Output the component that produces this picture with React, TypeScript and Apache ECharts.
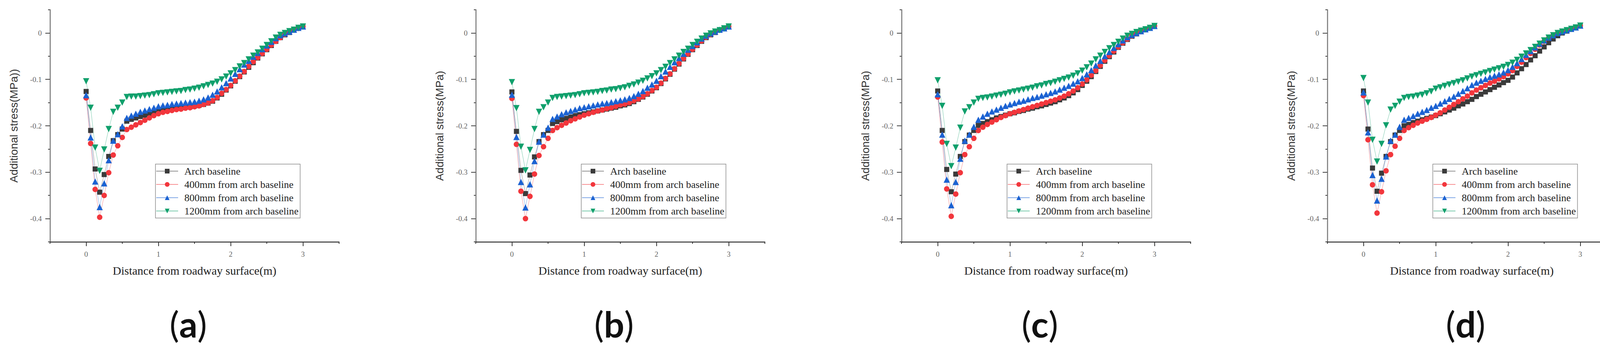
import React, { useEffect, useRef } from 'react'
import * as echarts from 'echarts'

// distance from roadway surface (m)
const distance = [
  0, 0.0625, 0.125, 0.1875, 0.25, 0.3125, 0.375, 0.4375, 0.5, 0.5625, 0.625, 0.6875, 0.75, 0.8125, 0.875, 0.9375,
  1, 1.0625, 1.125, 1.1875, 1.25, 1.3125, 1.375, 1.4375, 1.5, 1.5625, 1.625, 1.6875, 1.75, 1.8125, 1.875, 1.9375,
  2, 2.0625, 2.125, 2.1875, 2.25, 2.3125, 2.375, 2.4375, 2.5, 2.5625, 2.625, 2.6875, 2.75, 2.8125, 2.875, 2.9375, 3,
]

const seriesNames = ['Arch baseline', '400mm from arch baseline', '800mm from arch baseline', '1200mm from arch baseline']
const panelTags = ['a', 'b', 'c', 'd']
const yNames = ['Additional stress(MPa))', 'Additional stress(MPa)', 'Additional stress(MPa)', 'Additional stress(MPa)']
const xName = 'Distance from roadway surface(m)'
const yTicks = [-0.4, -0.3, -0.2, -0.1, 0]
const yMinorTicks = [-0.45, -0.35, -0.25, -0.15, -0.05, 0.05]
const xTicks = [0, 1, 2, 3]
const xMinorTicks = [-0.5, 0.5, 1.5, 2.5, 3.5]

// (a)
const archA = [-0.126, -0.210, -0.293, -0.343, -0.305, -0.266, -0.232, -0.219, -0.207, -0.190, -0.186, -0.183, -0.180, -0.177, -0.174, -0.171, -0.168, -0.166, -0.165, -0.163, -0.162, -0.161, -0.160, -0.159, -0.157, -0.156, -0.154, -0.151, -0.147, -0.140, -0.132, -0.123, -0.114, -0.104, -0.094, -0.084, -0.074, -0.064, -0.054, -0.045, -0.036, -0.027, -0.018, -0.010, -0.004, 0.001, 0.006, 0.010, 0.015]
const mm400A = [-0.140, -0.238, -0.337, -0.397, -0.350, -0.301, -0.263, -0.243, -0.225, -0.208, -0.203, -0.198, -0.193, -0.188, -0.183, -0.178, -0.174, -0.171, -0.169, -0.167, -0.165, -0.164, -0.162, -0.161, -0.159, -0.157, -0.154, -0.151, -0.146, -0.139, -0.130, -0.122, -0.113, -0.103, -0.093, -0.083, -0.072, -0.062, -0.053, -0.044, -0.035, -0.026, -0.018, -0.010, -0.003, 0.002, 0.006, 0.010, 0.014]
const mm800A = [-0.134, -0.225, -0.320, -0.375, -0.324, -0.274, -0.232, -0.218, -0.201, -0.183, -0.178, -0.174, -0.170, -0.167, -0.164, -0.161, -0.158, -0.156, -0.155, -0.153, -0.152, -0.151, -0.150, -0.149, -0.148, -0.146, -0.143, -0.139, -0.133, -0.126, -0.117, -0.108, -0.098, -0.088, -0.078, -0.068, -0.060, -0.051, -0.043, -0.035, -0.027, -0.019, -0.011, -0.005, -0.001, 0.003, 0.007, 0.011, 0.014]
const mm1200A = [-0.104, -0.161, -0.247, -0.297, -0.251, -0.207, -0.170, -0.161, -0.150, -0.138, -0.137, -0.137, -0.136, -0.135, -0.134, -0.132, -0.130, -0.129, -0.128, -0.127, -0.126, -0.125, -0.123, -0.122, -0.120, -0.118, -0.115, -0.112, -0.109, -0.105, -0.100, -0.094, -0.087, -0.080, -0.072, -0.065, -0.057, -0.049, -0.042, -0.034, -0.026, -0.018, -0.010, -0.004, 0.000, 0.004, 0.007, 0.011, 0.014]

// (b)
const archB = [-0.127, -0.212, -0.296, -0.346, -0.306, -0.267, -0.234, -0.219, -0.210, -0.195, -0.191, -0.187, -0.184, -0.181, -0.178, -0.176, -0.174, -0.172, -0.170, -0.168, -0.166, -0.164, -0.162, -0.160, -0.157, -0.155, -0.152, -0.148, -0.143, -0.138, -0.132, -0.125, -0.118, -0.109, -0.099, -0.089, -0.078, -0.067, -0.056, -0.046, -0.036, -0.027, -0.018, -0.010, -0.004, 0.001, 0.006, 0.010, 0.015]
const mm400B = [-0.141, -0.240, -0.341, -0.400, -0.352, -0.304, -0.264, -0.245, -0.227, -0.210, -0.204, -0.199, -0.194, -0.189, -0.185, -0.181, -0.177, -0.174, -0.171, -0.168, -0.166, -0.163, -0.161, -0.158, -0.155, -0.153, -0.150, -0.146, -0.142, -0.137, -0.131, -0.124, -0.117, -0.108, -0.098, -0.088, -0.077, -0.066, -0.055, -0.045, -0.035, -0.026, -0.017, -0.009, -0.003, 0.002, 0.006, 0.010, 0.014]
const mm800B = [-0.133, -0.224, -0.321, -0.376, -0.326, -0.276, -0.234, -0.219, -0.204, -0.185, -0.180, -0.175, -0.171, -0.168, -0.165, -0.162, -0.160, -0.158, -0.156, -0.154, -0.152, -0.151, -0.149, -0.147, -0.145, -0.143, -0.140, -0.136, -0.131, -0.125, -0.118, -0.111, -0.103, -0.093, -0.083, -0.073, -0.063, -0.054, -0.045, -0.036, -0.028, -0.020, -0.012, -0.006, -0.001, 0.003, 0.007, 0.010, 0.014]
const mm1200B = [-0.106, -0.162, -0.245, -0.296, -0.252, -0.207, -0.170, -0.160, -0.150, -0.140, -0.138, -0.137, -0.136, -0.135, -0.134, -0.132, -0.130, -0.129, -0.128, -0.127, -0.125, -0.124, -0.122, -0.121, -0.119, -0.117, -0.114, -0.111, -0.107, -0.103, -0.098, -0.093, -0.087, -0.080, -0.073, -0.065, -0.057, -0.049, -0.041, -0.034, -0.026, -0.019, -0.012, -0.006, -0.001, 0.003, 0.006, 0.010, 0.014]

// (c)
const archC = [-0.125, -0.210, -0.294, -0.342, -0.304, -0.266, -0.234, -0.220, -0.210, -0.199, -0.195, -0.191, -0.187, -0.183, -0.180, -0.177, -0.174, -0.172, -0.169, -0.167, -0.164, -0.162, -0.159, -0.157, -0.154, -0.151, -0.148, -0.144, -0.140, -0.135, -0.129, -0.122, -0.113, -0.104, -0.094, -0.083, -0.072, -0.061, -0.051, -0.041, -0.031, -0.022, -0.014, -0.007, -0.002, 0.003, 0.007, 0.011, 0.015]
const mm400C = [-0.138, -0.235, -0.336, -0.395, -0.347, -0.301, -0.262, -0.245, -0.227, -0.210, -0.203, -0.197, -0.192, -0.187, -0.182, -0.178, -0.174, -0.171, -0.168, -0.165, -0.162, -0.159, -0.156, -0.153, -0.150, -0.147, -0.144, -0.140, -0.136, -0.131, -0.125, -0.118, -0.110, -0.101, -0.091, -0.081, -0.070, -0.059, -0.049, -0.039, -0.030, -0.021, -0.013, -0.006, -0.001, 0.003, 0.007, 0.011, 0.015]
const mm800C = [-0.132, -0.219, -0.316, -0.371, -0.321, -0.271, -0.232, -0.219, -0.202, -0.187, -0.180, -0.174, -0.169, -0.165, -0.161, -0.157, -0.154, -0.151, -0.148, -0.146, -0.143, -0.140, -0.138, -0.135, -0.132, -0.129, -0.126, -0.122, -0.118, -0.114, -0.109, -0.104, -0.097, -0.089, -0.080, -0.070, -0.060, -0.050, -0.041, -0.032, -0.024, -0.016, -0.009, -0.004, 0.000, 0.004, 0.008, 0.011, 0.015]
const mm1200C = [-0.102, -0.157, -0.239, -0.287, -0.247, -0.204, -0.169, -0.160, -0.150, -0.142, -0.140, -0.139, -0.137, -0.135, -0.133, -0.131, -0.128, -0.126, -0.124, -0.122, -0.120, -0.118, -0.115, -0.113, -0.110, -0.108, -0.105, -0.102, -0.099, -0.096, -0.092, -0.087, -0.081, -0.074, -0.066, -0.057, -0.049, -0.041, -0.033, -0.026, -0.019, -0.012, -0.006, -0.002, 0.002, 0.005, 0.008, 0.011, 0.015]

// (d)
const archD = [-0.125, -0.207, -0.291, -0.341, -0.302, -0.266, -0.234, -0.220, -0.210, -0.200, -0.197, -0.193, -0.190, -0.187, -0.184, -0.181, -0.178, -0.174, -0.170, -0.166, -0.162, -0.157, -0.153, -0.148, -0.143, -0.137, -0.132, -0.127, -0.122, -0.117, -0.112, -0.107, -0.102, -0.095, -0.086, -0.077, -0.068, -0.058, -0.049, -0.039, -0.030, -0.021, -0.013, -0.006, 0.000, 0.004, 0.008, 0.012, 0.016]
const mm400D = [-0.135, -0.230, -0.327, -0.388, -0.342, -0.297, -0.262, -0.244, -0.227, -0.210, -0.204, -0.199, -0.194, -0.190, -0.186, -0.182, -0.177, -0.172, -0.166, -0.160, -0.154, -0.148, -0.142, -0.136, -0.129, -0.123, -0.118, -0.113, -0.108, -0.104, -0.099, -0.094, -0.088, -0.081, -0.072, -0.063, -0.053, -0.044, -0.035, -0.026, -0.018, -0.011, -0.005, 0.000, 0.003, 0.006, 0.009, 0.012, 0.016]
const mm800D = [-0.128, -0.214, -0.306, -0.361, -0.314, -0.266, -0.232, -0.219, -0.202, -0.187, -0.183, -0.179, -0.174, -0.170, -0.166, -0.161, -0.157, -0.152, -0.147, -0.142, -0.137, -0.131, -0.125, -0.119, -0.112, -0.107, -0.103, -0.099, -0.095, -0.092, -0.089, -0.085, -0.080, -0.073, -0.065, -0.056, -0.047, -0.039, -0.031, -0.023, -0.016, -0.010, -0.005, 0.000, 0.003, 0.006, 0.009, 0.012, 0.016]
const mm1200D = [-0.097, -0.150, -0.230, -0.277, -0.239, -0.199, -0.165, -0.157, -0.148, -0.140, -0.138, -0.137, -0.135, -0.133, -0.130, -0.126, -0.120, -0.117, -0.114, -0.111, -0.108, -0.105, -0.102, -0.098, -0.094, -0.091, -0.088, -0.085, -0.082, -0.079, -0.076, -0.073, -0.069, -0.064, -0.058, -0.051, -0.044, -0.037, -0.030, -0.023, -0.016, -0.010, -0.005, 0.000, 0.003, 0.006, 0.009, 0.012, 0.016]

const panelData = [
  [archA, mm400A, mm800A, mm1200A],
  [archB, mm400B, mm800B, mm1200B],
  [archC, mm400C, mm800C, mm1200C],
  [archD, mm400D, mm800D, mm1200D],
]

const markerStyles = [
  { symbol: 'rect', size: 13, rotate: 0, color: '#3b3b3b' },
  { symbol: 'circle', size: 14, rotate: 0, color: '#f2363c' },
  { symbol: 'triangle', size: 16, rotate: 0, color: '#1b62d2' },
  { symbol: 'triangle', size: 16, rotate: 180, color: '#10a06c' },
]

const gridLeft = [128, 1218, 2308, 3398]
const gridTop = 25
const gridWidth = 740
const gridHeight = 594

const serif = 'Liberation Serif, Times New Roman, serif'
const sans = 'Liberation Sans, Arial, sans-serif'

const App = () => {
  const chartRef = useRef<HTMLDivElement | null>(null)

  useEffect(() => {
    if (!chartRef.current) return
    const chart = echarts.init(chartRef.current, null, { renderer: 'svg' })

    const grids: any[] = []
    const xAxes: any[] = []
    const yAxes: any[] = []
    const series: any[] = []
    const legends: any[] = []
    const graphics: any[] = []

    panelData.forEach((panel, k) => {
      grids.push({ left: gridLeft[k], top: gridTop, width: gridWidth, height: gridHeight, containLabel: false })

      // main x axis
      xAxes.push({
        type: 'value',
        gridIndex: k,
        position: 'bottom',
        min: -0.5,
        max: 3.5,
        name: xName,
        nameLocation: 'middle',
        nameGap: 58,
        nameTextStyle: { fontFamily: serif, fontSize: 30, color: '#222' },
        axisLine: { show: true, onZero: false, lineStyle: { color: '#333', width: 2.5 } },
        axisTick: { show: true, inside: false, length: 11, customValues: xTicks, lineStyle: { color: '#333', width: 2 } },
        axisLabel: { customValues: xTicks, margin: 22, fontFamily: serif, fontSize: 19, color: '#666' },
        splitLine: { show: false },
      })
      // minor x ticks
      xAxes.push({
        type: 'value',
        gridIndex: k,
        position: 'bottom',
        min: -0.5,
        max: 3.5,
        axisLine: { show: false, onZero: false },
        axisTick: { show: true, inside: false, length: 5, customValues: xMinorTicks, lineStyle: { color: '#333', width: 2 } },
        axisLabel: { show: false },
        splitLine: { show: false },
      })

      yAxes.push({
        type: 'value',
        gridIndex: k,
        position: 'left',
        min: -0.45,
        max: 0.05,
        name: yNames[k],
        nameLocation: 'middle',
        nameGap: 79,
        nameTextStyle: { fontFamily: sans, fontSize: 28, color: '#333' },
        axisLine: { show: true, onZero: false, lineStyle: { color: '#8a8a8a', width: 3 } },
        axisTick: { show: true, inside: false, length: 12, customValues: yTicks, lineStyle: { color: '#444', width: 2 } },
        axisLabel: {
          customValues: yTicks,
          margin: 21,
          fontFamily: serif,
          fontSize: 19,
          color: '#666',
          formatter: (v: number) => (v === 0 ? '0' : v.toFixed(1)),
        },
        splitLine: { show: false },
      })
      yAxes.push({
        type: 'value',
        gridIndex: k,
        position: 'left',
        min: -0.45,
        max: 0.05,
        axisLine: { show: false, onZero: false },
        axisTick: { show: true, inside: false, length: 5, customValues: yMinorTicks, lineStyle: { color: '#444', width: 2 } },
        axisLabel: { show: false },
        splitLine: { show: false },
      })

      panel.forEach((values, s) => {
        const m = markerStyles[s]
        series.push({
          name: seriesNames[s],
          type: 'line',
          xAxisIndex: 2 * k,
          yAxisIndex: 2 * k,
          data: distance.map((d, i) => [d, values[i]]),
          symbol: m.symbol,
          symbolSize: m.size,
          symbolRotate: m.rotate,
          showAllSymbol: true,
          itemStyle: { color: m.color },
          lineStyle: { color: m.color, width: 1, opacity: 0.55 },
          emphasis: { disabled: true },
        })
      })

      legends.push({
        data: seriesNames,
        orient: 'vertical',
        left: gridLeft[k] + 270,
        top: 420,
        itemWidth: 56,
        itemHeight: 15,
        itemGap: 8,
        padding: [5, 4, 5, 1],
        borderColor: '#8c8c8c',
        borderWidth: 1.5,
        selectedMode: false,
        textStyle: { fontFamily: serif, fontSize: 26, color: '#222', padding: [0, 0, 0, 11] },
      })

      graphics.push({
        type: 'text',
        x: gridLeft[k] + 354,
        y: 828,
        style: {
          text: '{p|(}{b|' + panelTags[k] + '}{p|)}',
          align: 'center',
          verticalAlign: 'middle',
          rich: {
            p: { fontFamily: 'Lato, sans-serif', fontSize: 92, fontWeight: 'normal', fill: '#111' },
            b: { fontFamily: 'Lato, sans-serif', fontSize: 92, fontWeight: 'bold', fill: '#111' },
          },
        },
      })
    })

    chart.setOption({
      animation: false,
      backgroundColor: '#fff',
      grid: grids,
      xAxis: xAxes,
      yAxis: yAxes,
      legend: legends,
      series,
      graphic: graphics,
    })

    return () => {
      chart.dispose()
    }
  }, [])

  return (
    <div
      ref={chartRef}
      style={{ position: 'fixed', left: 0, top: 0, width: 4162, height: 883, background: '#fff' }}
    />
  )
}

export default App
